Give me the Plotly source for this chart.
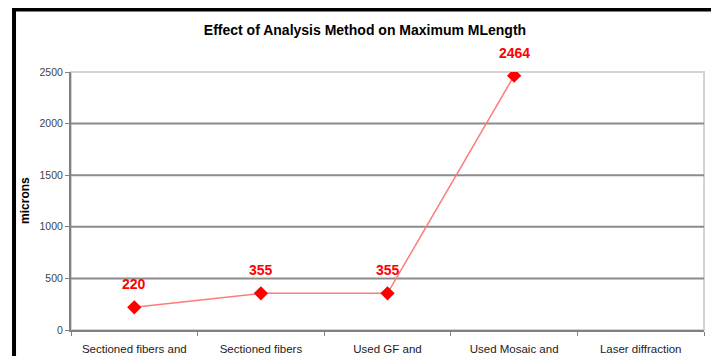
import plotly.graph_objects as go

categories = ["Sectioned fibers and", "Sectioned fibers", "Used GF and", "Used Mosaic and", "Laser diffraction"]
values = [220, 355, 355, 2464, None]
y_ticks = [0, 500, 1000, 1500, 2000, 2500]

fig = go.Figure()
fig.add_trace(go.Scatter(
    x=categories, y=values, mode="lines+markers",
    line=dict(color="#ff7a7a", width=1.5),
    marker=dict(symbol="diamond", size=11, color="#ff0000"),
    connectgaps=False, hoverinfo="skip", showlegend=False,
))

for c, v in zip(categories, values):
    if v is not None:
        fig.add_annotation(x=c, y=v, text=str(v), showarrow=False, yshift=23,
                           font=dict(family="Arial", size=14, color="#ff0000", weight="bold"))

fig.add_annotation(xref="paper", yref="paper", x=-0.0727, y=0.504, text="microns",
                   textangle=-90, showarrow=False, xanchor="center", yanchor="middle",
                   font=dict(family="Arial", size=12, color="#000000", weight="bold"))

# plot area border (light gray)
fig.add_shape(type="rect", xref="paper", yref="paper", x0=0, x1=1, y0=0, y1=1,
              line=dict(color="#d4d4d4", width=2), layer="below")
# gridlines (interior ticks only; top edge is the light border)
for v in y_ticks[1:-1]:
    fig.add_shape(type="line", xref="paper", yref="y", x0=0, x1=1, y0=v, y1=v,
                  line=dict(color="#8c8c8c", width=2), layer="below")
# black outer frame
fig.add_shape(type="rect", xref="paper", yref="paper", x0=-0.090, x1=1.0174, y0=-0.2, y1=1.2422,
              line=dict(color="#000000", width=4), layer="above")

fig.update_layout(
    width=719, height=356,
    margin=dict(l=63, r=23, t=64, b=34, autoexpand=False),
    paper_bgcolor="white", plot_bgcolor="white",
    title=dict(text="Effect of Analysis Method on Maximum MLength", x=0.4965, y=0.938,
               xanchor="center", yanchor="middle",
               font=dict(family="Arial", size=14, color="#000000", weight="bold")),
    font=dict(family="Arial"),
)
fig.update_xaxes(
    type="category", tickson="boundaries", ticks="outside", ticklen=4, tickcolor="#808080",
    showline=True, linecolor="#808080", linewidth=2, showgrid=False,
    tickfont=dict(family="Arial", size=11.5, color="#222222"), ticklabelstandoff=7,
    range=[-0.5, 4.5], automargin=False,
)
fig.update_yaxes(
    range=[0, 2500], tickvals=y_ticks, ticks="outside", ticklen=4, tickcolor="#808080",
    showline=True, linecolor="#808080", linewidth=2,
    showgrid=False, zeroline=False, automargin=False,
    tickfont=dict(family="Arial", size=10.5, color="#444444"),
)

fig.write_html("out.html")
